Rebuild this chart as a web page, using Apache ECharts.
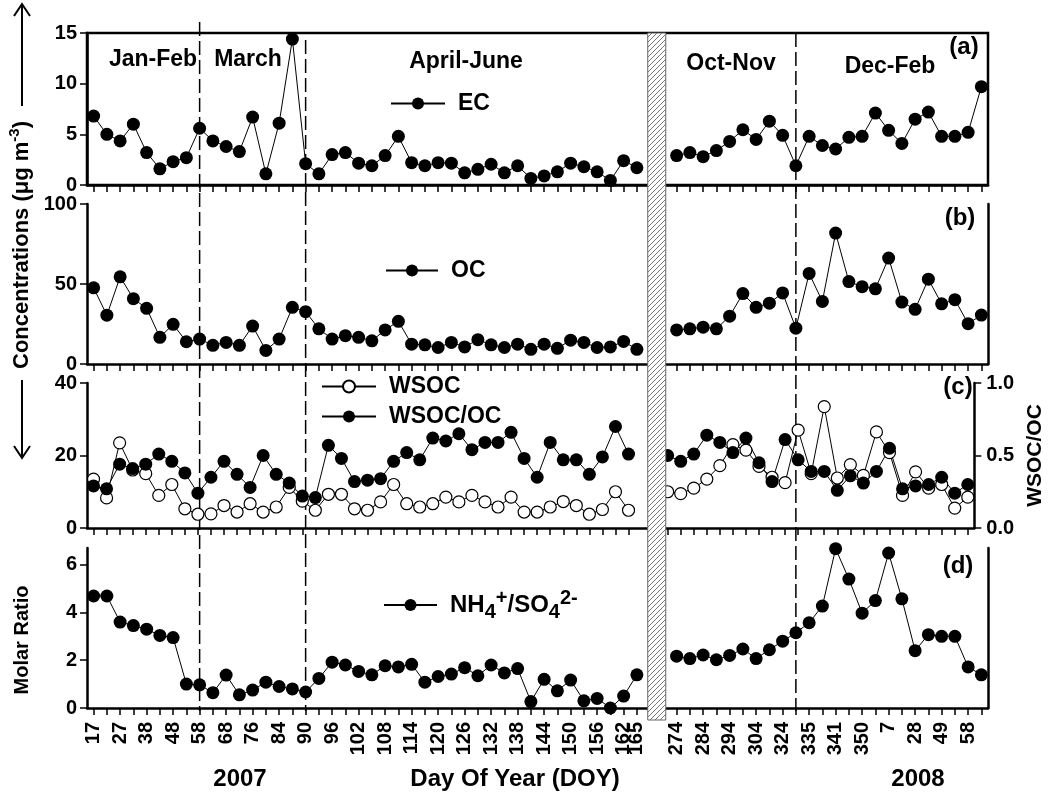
<!DOCTYPE html>
<html>
<head>
<meta charset="utf-8">
<script src="https://cdn.jsdelivr.net/npm/echarts@6/dist/echarts.min.js"></script>
<style>
  html, body { margin: 0; padding: 0; background: #fff; }
  #chart { width: 1054px; height: 796px; }
</style>
</head>
<body>
<div id="chart"></div>
<script>
// Day-of-year tick labels, one slot per sample (two empty slots mark the summer gap)
const tickLabels = ['17','','27','','38','','48','','58','','68','','76','','84','','90','','96','',
  '102','','108','','114','','120','','126','','132','','138','','144','','150','','156','','162','165',
  '','',
  '274','','284','','294','','304','','324','','335','','341','','350','','7','','28','','49','','58',''];
const categories = tickLabels.map((_, i) => String(i));
const gapSlots = [42, 43];

// EC (ug m-3)
const ec = [6.8, 5.0, 4.35, 6.0, 3.2, 1.6, 2.3, 2.7, 5.6, 4.35, 3.8, 3.3, 6.7, 1.1, 6.1, 14.4, 2.1, 1.1, 3.0, 3.2,
  2.15, 1.9, 2.9, 4.8, 2.2, 1.9, 2.2, 2.15, 1.2, 1.55, 2.05, 1.2, 1.9, 0.65, 0.9, 1.3, 2.15, 1.8, 1.3, 0.45, 2.4, 1.7,
  null, null,
  2.9, 3.2, 2.8, 3.4, 4.3, 5.45, 4.5, 6.3, 4.9, 1.9, 4.8, 3.9, 3.55, 4.7, 4.8, 7.1, 5.4, 4.1, 6.5, 7.2, 4.8, 4.8, 5.2, 9.7];

// OC (ug m-3)
const oc = [47.6, 30.5, 54.5, 40.8, 34.8, 16.7, 24.8, 13.9, 15.6, 11.7, 13.5, 11.7, 23.7, 8.5, 15.6, 35.4, 32.7, 22, 15.6, 17.7,
  16.7, 14.5, 21.3, 26.7, 12.4, 12, 10.3, 13.5, 10.7, 15.2, 12, 10.3, 12.4, 9.2, 12.4, 9.8, 14.9, 13.5, 10.3, 10.7, 14.1, 9.2,
  null, null,
  21.3, 22, 23, 22, 29.9, 44, 35.4, 38, 44.4, 22.4, 56.6, 39.1, 81.8, 51.5, 48.3, 47, 66.2, 38.7, 34.2, 53, 37.6, 40.2, 25.2, 30.6];

// WSOC (ug m-3)
const wsoc = [13.5, 8.3, 23.5, 16, 15, 9, 12, 5.3, 3.8, 3.9, 6.2, 4.4, 6.7, 4.4, 5.8, 11.2, 7.4, 4.9, 9.3, 9.3,
  5.3, 4.9, 7.2, 12, 6.7, 5.8, 6.7, 8.5, 7.2, 9, 7.2, 5.8, 8.5, 4.4, 4.4, 5.8, 7.3, 6.2, 3.8, 5.1, 10, 4.9,
  null, null,
  10.0, 9.5, 11, 13.5, 17.2, 23, 21.5, 17, 14, 12.5, 27, 15, 33.5, 13.8, 17.5, 14.5, 26.5, 20.8, 9, 15.5, 11, 12, 5.5, 8.5];

// WSOC/OC ratio
const wsocRatio = [0.29, 0.27, 0.44, 0.41, 0.44, 0.51, 0.46, 0.38, 0.24, 0.35, 0.46, 0.37, 0.28, 0.50, 0.37, 0.31, 0.22, 0.21, 0.57, 0.48,
  0.32, 0.33, 0.34, 0.46, 0.52, 0.47, 0.62, 0.60, 0.65, 0.54, 0.59, 0.59, 0.66, 0.48, 0.35, 0.59, 0.47, 0.47, 0.37, 0.49, 0.70, 0.51,
  null, null,
  0.50, 0.46, 0.51, 0.64, 0.59, 0.52, 0.62, 0.45, 0.32, 0.61, 0.47, 0.39, 0.39, 0.26, 0.36, 0.31, 0.39, 0.55, 0.27, 0.29, 0.30, 0.35, 0.24, 0.30];

// NH4+/SO4 2- molar ratio
const nh4so4 = [4.69, 4.69, 3.6, 3.45, 3.3, 3.04, 2.95, 1.0, 0.97, 0.64, 1.38, 0.55, 0.75, 1.08, 0.9, 0.8, 0.67, 1.24, 1.92, 1.8,
  1.53, 1.39, 1.77, 1.72, 1.83, 1.08, 1.32, 1.42, 1.69, 1.35, 1.8, 1.47, 1.65, 0.27, 1.2, 0.72, 1.17, 0.3, 0.4, 0.0, 0.5, 1.39,
  null, null,
  2.17, 2.07, 2.22, 2.02, 2.2, 2.47, 2.07, 2.44, 2.8, 3.15, 3.57, 4.27, 6.67, 5.4, 3.97, 4.5, 6.49, 4.57, 2.4, 3.07, 3.0, 3.0, 1.72, 1.39];

// Season boundaries (sample slots) and season names
const seasonBreaks = [8, 16, 53];
const seasonNames = ['Jan-Feb', 'March', 'April-June', 'Oct-Nov', 'Dec-Feb'];

const FONT = "'Liberation Sans', Arial, sans-serif";
const grids = [
  { left: 87, width: 901, top: 33, height: 152 },
  { left: 87, width: 901, top: 204, height: 160 },
  { left: 87, width: 901, top: 383, height: 145 },
  { left: 87, width: 901, top: 548, height: 160 }
];

const hasSample = (i) => gapSlots.indexOf(i) < 0;
const lineAxis = { show: true, onZero: false, lineStyle: { color: '#000', width: 2.5 } };
const yLabel = { color: '#000', fontSize: 20, fontWeight: 'bold', fontFamily: FONT, margin: 10 };
const yTick = { show: true, length: 7, lineStyle: { color: '#000', width: 1.5 } };

function leftY(grid, min, max, interval, extra) {
  return Object.assign({
    type: 'value', gridIndex: grid, position: 'left', min: min, max: max, interval: interval,
    axisLine: lineAxis, axisTick: yTick, axisLabel: yLabel, splitLine: { show: false }
  }, extra || {});
}
function plainRight(grid) {
  return {
    type: 'value', gridIndex: grid, position: 'right', min: 0, max: 1,
    axisLine: lineAxis, axisTick: { show: false }, axisLabel: { show: false }, splitLine: { show: false }
  };
}

const dot = { color: '#000' };
const line = { color: '#000', width: 1 };
const richText = {
  n: { fontSize: 24, fontWeight: 'bold', fontFamily: FONT, color: '#000', lineHeight: 34 },
  s: { fontSize: 20, fontWeight: 'bold', fontFamily: FONT, color: '#000', lineHeight: 20, verticalAlign: 'bottom' },
  p: { fontSize: 20, fontWeight: 'bold', fontFamily: FONT, color: '#000', lineHeight: 20, verticalAlign: 'top' }
};

const option = {
  animation: false,
  grid: grids.map((g, i) => Object.assign({}, g, i === 0 ? { show: true, borderColor: '#000', borderWidth: 2.5 } : {})),
  xAxis: grids.map((g, i) => ({
    type: 'category', gridIndex: i, data: categories, boundaryGap: true,
    axisLine: lineAxis,
    axisTick: { show: true, alignWithLabel: true, interval: (idx) => hasSample(idx), length: 7,
      lineStyle: { color: '#000', width: 1.5 } },
    axisLabel: i === 3 ? {
      show: true, rotate: 90, interval: (idx) => tickLabels[idx] !== '',
      formatter: (v, idx) => tickLabels[idx], color: '#000', fontSize: 20, fontWeight: 'bold',
      fontFamily: FONT, margin: 14
    } : { show: false },
    splitLine: { show: false }
  })),
  yAxis: [
    leftY(0, 0, 15, 5),
    leftY(1, 0, 100, 50),
    plainRight(1),
    leftY(2, 0, 40, 20),
    {
      type: 'value', gridIndex: 2, position: 'right', min: 0, max: 1, interval: 0.5,
      axisLine: lineAxis, axisTick: yTick,
      axisLabel: Object.assign({}, yLabel, { margin: 12, formatter: (v) => v.toFixed(1) }),
      splitLine: { show: false },
      name: 'WSOC/OC', nameLocation: 'middle', nameRotate: 90, nameGap: 46,
      nameTextStyle: { color: '#000', fontSize: 21, fontWeight: 'bold', fontFamily: FONT }
    },
    leftY(3, 0, 6.7, null, {
      interval: undefined,
      axisTick: Object.assign({}, yTick, { customValues: [0, 2, 4, 6] }),
      axisLabel: Object.assign({}, yLabel, { customValues: [0, 2, 4, 6] })
    }),
    plainRight(3)
  ],
  legend: [
    { data: ['EC'], left: 390, top: 92, itemWidth: 54 },
    { data: ['OC'], left: 385, top: 259, itemWidth: 52 },
    { data: ['WSOC'], left: 321, top: 375, itemWidth: 54 },
    { data: ['WSOC/OC'], left: 321, top: 405, itemWidth: 54 },
    { data: ['NH4+/SO42-'], left: 383, top: 588, itemWidth: 53,
      formatter: () => '{n|NH}{s|4}{p|+}{n|/SO}{s|4}{p|2-}' }
  ].map((l) => Object.assign({
    selectedMode: false, padding: 0, itemWidth: 50, itemHeight: 15, itemGap: 10,
    textStyle: {
      color: '#000', fontSize: 23, fontWeight: 'bold', fontFamily: FONT, padding: [0, 0, 0, 8],
      rich: richText
    }
  }, l)),
  series: [
    { name: 'EC', type: 'line', xAxisIndex: 0, yAxisIndex: 0, data: ec },
    { name: 'OC', type: 'line', xAxisIndex: 1, yAxisIndex: 1, data: oc },
    { name: 'WSOC', type: 'line', xAxisIndex: 2, yAxisIndex: 3, data: wsoc, symbolSize: 12,
      itemStyle: { color: '#fff', borderColor: '#000', borderWidth: 1.2 } },
    { name: 'WSOC/OC', type: 'line', xAxisIndex: 2, yAxisIndex: 4, data: wsocRatio },
    { name: 'NH4+/SO42-', type: 'line', xAxisIndex: 3, yAxisIndex: 5, data: nh4so4 }
  ].map((s) => Object.assign({
    symbol: 'circle', symbolSize: 13, showSymbol: true, showAllSymbol: true, connectNulls: false,
    itemStyle: dot, lineStyle: line, emphasis: { disabled: true }
  }, s))
};

const chart = echarts.init(document.getElementById('chart'), null, { renderer: 'canvas' });
chart.setOption(option);

// Hatch pattern for the sampling gap band
const pc = document.createElement('canvas');
pc.width = 5; pc.height = 5;
const pg = pc.getContext('2d');
pg.fillStyle = '#fff'; pg.fillRect(0, 0, 5, 5);
pg.strokeStyle = '#555'; pg.lineWidth = 0.8;
pg.beginPath();
pg.moveTo(0, 5); pg.lineTo(5, 0);
pg.moveTo(-1, 1); pg.lineTo(1, -1);
pg.moveTo(4, 6); pg.lineTo(6, 4);
pg.stroke();

const xAt = (i) => chart.convertToPixel({ xAxisIndex: 0 }, i);
const step = xAt(1) - xAt(0);
const gapMid = (xAt(gapSlots[0]) + xAt(gapSlots[1])) / 2;
const bottomY = grids[3].top + grids[3].height;

function txt(text, x, y, size, extra) {
  return Object.assign({
    type: 'text', x: x, y: y, z: 20,
    style: { text: text, fill: '#000', fontSize: size, fontWeight: 'bold', fontFamily: FONT,
      align: 'center', verticalAlign: 'middle' }
  }, extra || {});
}

const dashTops = [22, 40, 33];
const graphics = [];
seasonBreaks.forEach((s, k) => {
  const x = xAt(s);
  graphics.push({ type: 'line', z: 1, silent: true,
    shape: { x1: x, y1: dashTops[k], x2: x, y2: bottomY + 3 },
    style: { stroke: '#000', lineWidth: 1.5, lineDash: [14, 5] } });
});
graphics.push({ type: 'rect', z: 15, silent: true,
  shape: { x: gapMid - 0.68 * step, y: grids[0].top, width: 1.36 * step, height: bottomY + 12 - grids[0].top },
  style: { fill: { image: pc, repeat: 'repeat' }, stroke: '#666', lineWidth: 1 } });

// Season names across the top panel
const seasonX = [153, 248, 466, 731, 890];
const seasonY = [60, 60, 62, 64, 67];
seasonNames.forEach((n, k) => graphics.push(txt(n, seasonX[k], seasonY[k], 23)));

// Panel tags
[['(a)', 964, 47], ['(b)', 960, 218], ['(c)', 958, 387], ['(d)', 958, 566]].forEach((p) =>
  graphics.push(txt(p[0], p[1], p[2], 24)));

// Bottom captions
graphics.push(txt('2007', 240, 779, 24));
graphics.push(txt('Day Of Year (DOY)', 515, 779, 24));
graphics.push(txt('2008', 918, 779, 24));

// Left axis titles with arrows
graphics.push({
  type: 'text', x: 22, y: 245, rotation: Math.PI / 2, z: 20,
  style: {
    text: '{a|Concentrations (μg m}{p|-3}{a|)}', align: 'center', verticalAlign: 'middle',
    rich: {
      a: { fontSize: 22, fontWeight: 'bold', fontFamily: FONT, fill: '#000', lineHeight: 30 },
      p: { fontSize: 15, fontWeight: 'bold', fontFamily: FONT, fill: '#000', lineHeight: 15, verticalAlign: 'top' }
    }
  }
});
graphics.push(txt('Molar Ratio', 22, 640, 20, { rotation: Math.PI / 2 }));
graphics.push({ type: 'polyline', z: 20, shape: { points: [[22, 106], [22, 4]] }, style: { stroke: '#000', lineWidth: 2, fill: null } });
graphics.push({ type: 'polyline', z: 20, shape: { points: [[14, 16], [22, 4], [30, 16]] }, style: { stroke: '#000', lineWidth: 2, fill: null } });
graphics.push({ type: 'polyline', z: 20, shape: { points: [[22, 380], [22, 458]] }, style: { stroke: '#000', lineWidth: 2, fill: null } });
graphics.push({ type: 'polyline', z: 20, shape: { points: [[14, 446], [22, 458], [30, 446]] }, style: { stroke: '#000', lineWidth: 2, fill: null } });

chart.setOption({ graphic: graphics });
</script>
</body>
</html>
